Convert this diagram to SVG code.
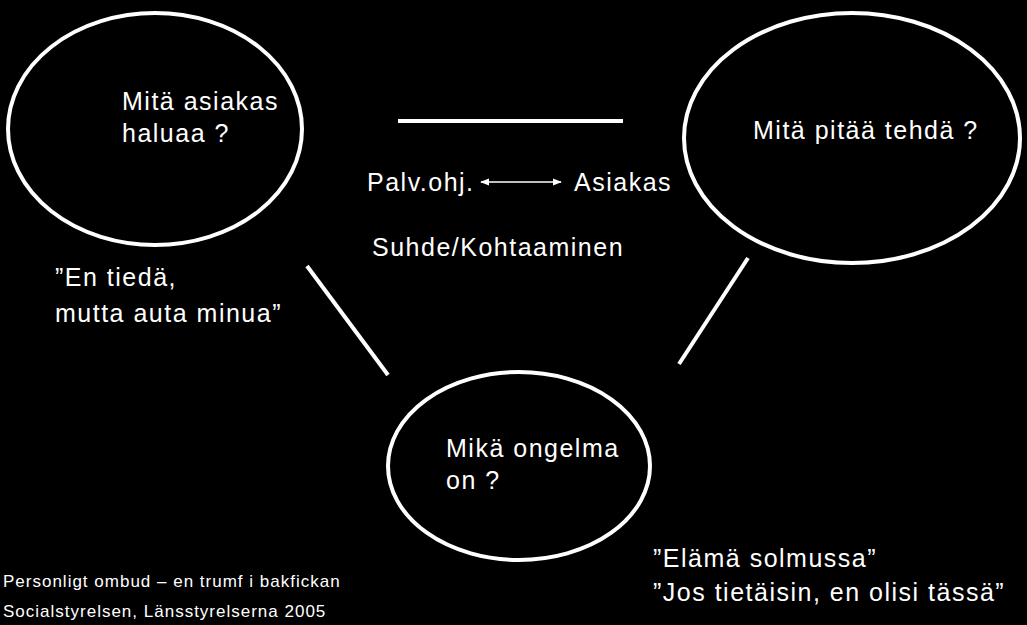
<svg xmlns="http://www.w3.org/2000/svg" width="1027" height="625" viewBox="0 0 1027 625">
<style>
.n{fill:#000;stroke:#fff;stroke-width:4}
.t{fill:#fff;font-family:"Liberation Sans",Arial,sans-serif;font-size:25px;letter-spacing:1.5px}
.s{fill:#fff;font-family:"Liberation Sans",Arial,sans-serif;font-size:17px;letter-spacing:1px}
.c{stroke:#fff;stroke-width:4;fill:none}
</style>
<defs><marker id="a" viewBox="0 0 10 10" refX="9" refY="5" markerWidth="6" markerHeight="6" orient="auto-start-reverse"><path d="M0,1L10,5L0,9z" fill="#fff"/></marker></defs>
<rect width="1027" height="625" fill="#000"/>
<g id="connectors">
<line class="c" x1="398" y1="121" x2="623" y2="121"/>
<line class="c" x1="307" y1="266" x2="388" y2="375"/>
<line class="c" x1="748" y1="258" x2="679" y2="364"/>
<line stroke="#fff" stroke-width="1.5" x1="481" y1="182" x2="561" y2="182" marker-start="url(#a)" marker-end="url(#a)"/>
</g>
<g id="n1"><ellipse class="n" cx="155" cy="129" rx="147" ry="116"/>
<text class="t" x="122" y="110">Mitä asiakas</text><text class="t" x="122" y="142">haluaa ?</text></g>
<g id="n2"><ellipse class="n" cx="852" cy="138" rx="168" ry="125"/>
<text class="t" x="753" y="139">Mitä pitää tehdä ?</text></g>
<g id="n3"><ellipse class="n" cx="519" cy="466" rx="131" ry="94"/>
<text class="t" x="446" y="457">Mikä ongelma</text><text class="t" x="446" y="489">on ?</text></g>
<text class="t" x="367" y="191">Palv.ohj.</text>
<text class="t" x="574" y="191">Asiakas</text>
<text class="t" x="372" y="256">Suhde/Kohtaaminen</text>
<text class="t" x="55" y="286">”En tiedä,</text>
<text class="t" x="55" y="322"> mutta auta minua”</text>
<text class="t" x="653" y="567">”Elämä solmussa”</text>
<text class="t" x="653" y="601">”Jos tietäisin, en olisi tässä”</text>
<text class="s" x="3" y="587">Personligt ombud – en trumf i bakfickan</text>
<text class="s" x="3" y="617">Socialstyrelsen, Länsstyrelserna 2005</text>
</svg>
